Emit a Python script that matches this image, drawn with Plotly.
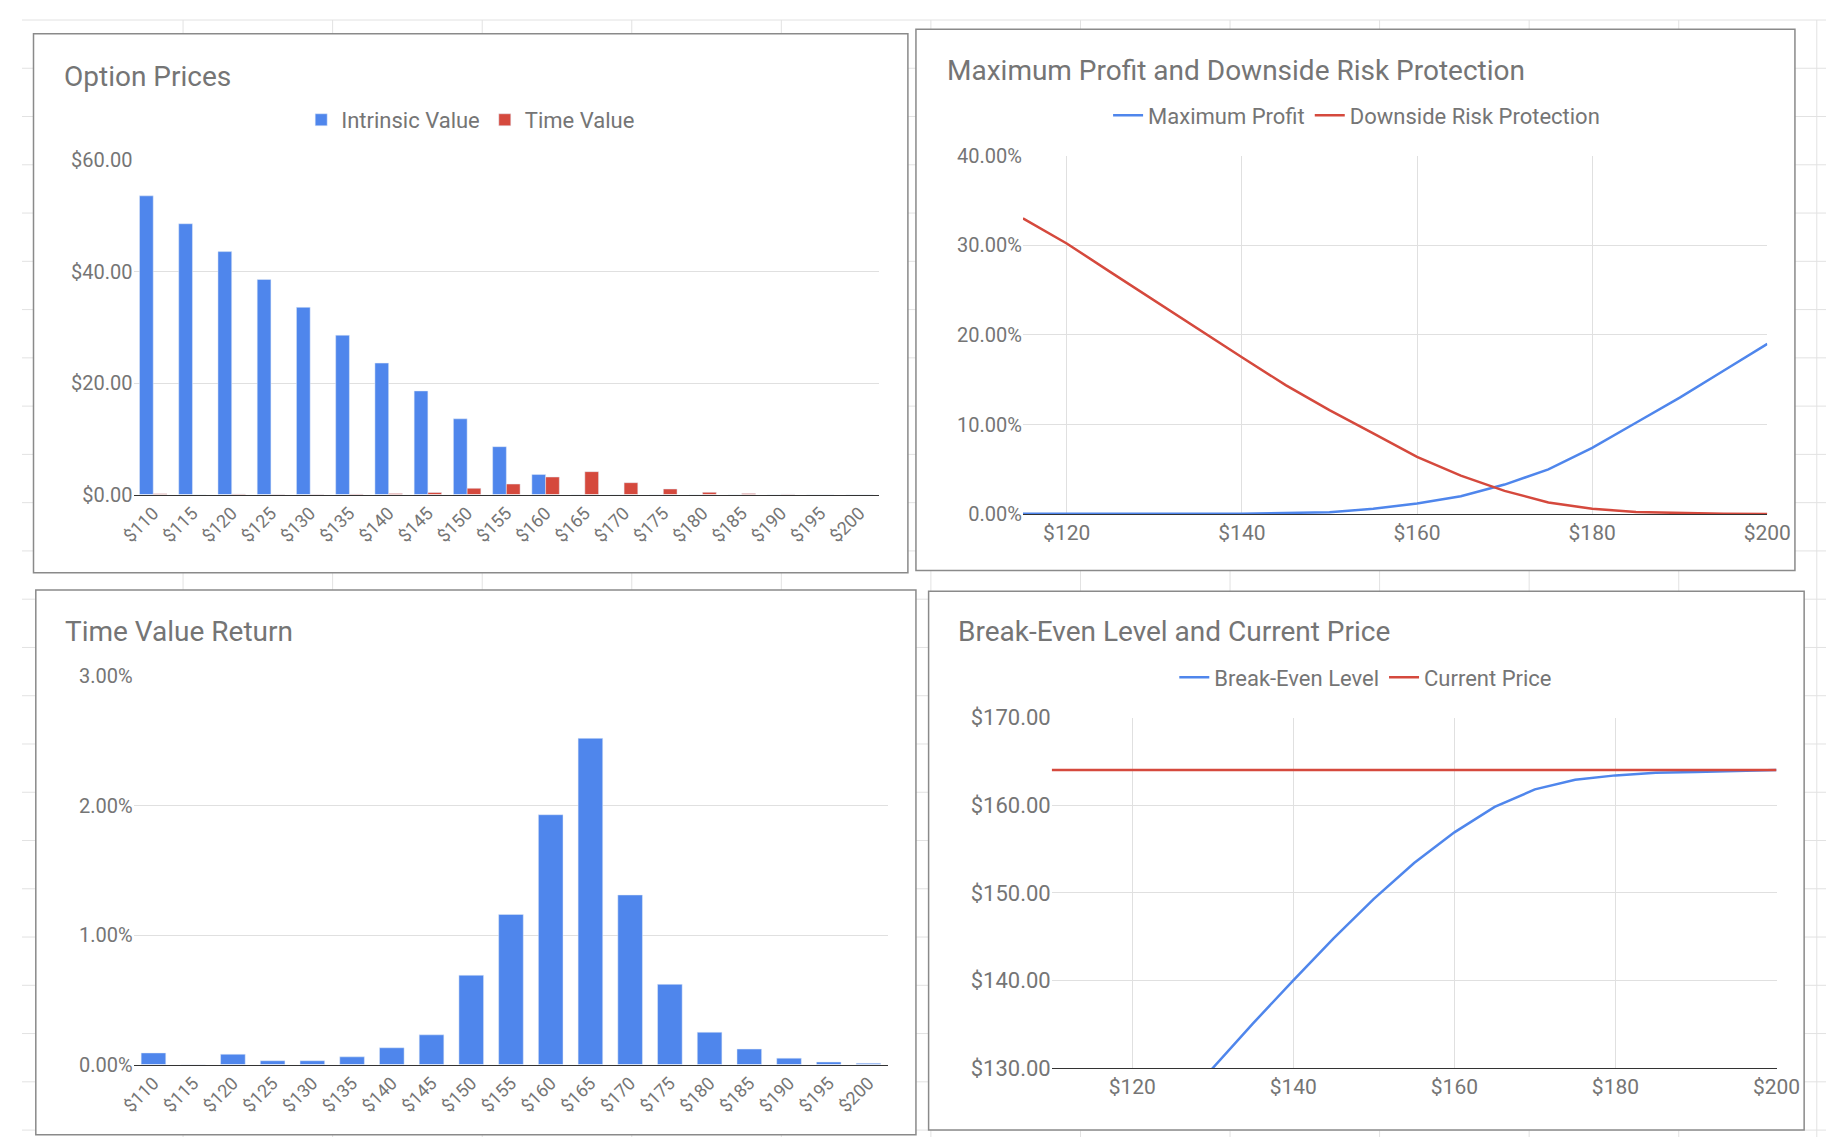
import plotly.graph_objects as go

strikes = [110, 115, 120, 125, 130, 135, 140, 145, 150, 155, 160, 165, 170, 175, 180, 185, 190, 195, 200]
strike_labels = ['$' + str(s) for s in strikes]

intrinsic_value = [53.6, 48.6, 43.6, 38.6, 33.6, 28.6, 23.6, 18.6, 13.6, 8.6, 3.6, 0, 0, 0, 0, 0, 0, 0, 0]
time_value = [0.15, 0.0, 0.13, 0.05, 0.05, 0.1, 0.21, 0.38, 1.13, 1.9, 3.16, 4.12, 2.14, 1.01, 0.41, 0.2, 0.08, 0.03, 0.02]
time_value_return = [0.0009, 0.0, 0.0008, 0.0003, 0.0003, 0.0006, 0.0013, 0.0023, 0.0069, 0.0116, 0.0193, 0.0252,
                     0.0131, 0.0062, 0.0025, 0.0012, 0.0005, 0.0002, 0.0001]

line_strikes = [115, 120, 125, 130, 135, 140, 145, 150, 155, 160, 165, 170, 175, 180, 185, 190, 195, 200]
max_profit = [0.0005, 0.0003, 0.0008, 0.0005, 0.0005, 0.0005, 0.001, 0.002, 0.006, 0.012, 0.02, 0.033, 0.05,
              0.074, 0.102, 0.13, 0.16, 0.19]
downside_protection = [0.33, 0.302, 0.27, 0.238, 0.206, 0.175, 0.144, 0.116, 0.09, 0.064, 0.043, 0.026, 0.013,
                       0.006, 0.0025, 0.001, 0.0003, 0.0001]

be_strikes = [110, 115, 120, 125, 130, 135, 140, 145, 150, 155, 160, 165, 170, 175, 180, 185, 190, 195, 200]
break_even = [110.1, 115.0, 120.1, 125.0, 130.0, 135.1, 140.0, 144.8, 149.3, 153.4, 156.9, 159.8, 161.8, 162.9,
              163.4, 163.7, 163.8, 163.9, 164.0]
current_price = [164.0] * len(be_strikes)

BLUE = '#4f86ec'
RED = '#d5493d'
GREY = '#757575'
GRID = '#e0e0e0'
FONT = 'Roboto'

W, H = 1568.0, 972.0  # reference pixel frame


def fx(px):
    return px / W


def fy(py):
    return 1 - py / H


fig = go.Figure()

# Option prices
fig.add_trace(go.Bar(x=strike_labels, y=intrinsic_value, name='Intrinsic Value', marker_color=BLUE,
                     xaxis='x', yaxis='y', legend='legend'))
fig.add_trace(go.Bar(x=strike_labels, y=time_value, name='Time Value', marker_color=RED,
                     xaxis='x', yaxis='y', legend='legend'))

# Max profit / downside
fig.add_trace(go.Scatter(x=line_strikes, y=max_profit, name='Maximum Profit', mode='lines',
                         line=dict(color=BLUE, width=2.5), xaxis='x2', yaxis='y2', legend='legend2'))
fig.add_trace(go.Scatter(x=line_strikes, y=downside_protection, name='Downside Risk Protection', mode='lines',
                         line=dict(color=RED, width=2.5), xaxis='x2', yaxis='y2', legend='legend2'))

# Time value return
fig.add_trace(go.Bar(x=strike_labels, y=time_value_return, name='Time Value Return', marker_color=BLUE,
                     xaxis='x3', yaxis='y3', showlegend=False, width=0.62))

# Break-even
fig.add_trace(go.Scatter(x=be_strikes, y=break_even, name='Break-Even Level', mode='lines',
                         line=dict(color=BLUE, width=2.5), xaxis='x4', yaxis='y4', legend='legend3'))
fig.add_trace(go.Scatter(x=be_strikes, y=current_price, name='Current Price', mode='lines',
                         line=dict(color=RED, width=2.5), xaxis='x4', yaxis='y4', legend='legend3'))

tick = dict(family=FONT, size=20, color=GREY)
cat_x = dict(type='category', tickangle=-45, tickfont=dict(family=FONT, size=18, color=GREY),
             showgrid=False, showline=True, linecolor='#333333', linewidth=1, ticks='')
num_x = dict(showgrid=True, gridcolor=GRID, tickfont=dict(family=FONT, size=21, color=GREY), tickprefix='$',
             dtick=20, tick0=120, showline=True, linecolor='#333333', zeroline=False, ticks='')
leg_font = dict(family=FONT, size=22, color=GREY)

fig.update_layout(
    width=1842, height=1142,
    margin=dict(l=0, r=0, t=0, b=0),
    paper_bgcolor='white', plot_bgcolor='white',
    font=dict(family=FONT, color=GREY),
    barmode='group', bargap=0.3,
    xaxis=dict(cat_x, domain=[fx(97), fx(745)], anchor='y'),
    yaxis=dict(domain=[fy(413), fy(122)], range=[0, 60], dtick=20, tickprefix='$', tickformat='.2f',
               gridcolor=GRID, tickfont=tick, zeroline=False, anchor='x'),
    xaxis2=dict(num_x, domain=[fx(870), fx(1517)], range=[115, 200], anchor='y2'),
    yaxis2=dict(domain=[fy(430), fy(118)], range=[0, 0.4], dtick=0.1, tickformat='.2%',
                gridcolor=GRID, tickfont=tick, zeroline=False, anchor='x2'),
    xaxis3=dict(cat_x, domain=[fx(97), fx(753)], anchor='y3'),
    yaxis3=dict(domain=[fy(909), fy(571)], range=[0, 0.03], dtick=0.01, tickformat='.2%',
                gridcolor=GRID, tickfont=tick, zeroline=False, anchor='x3'),
    xaxis4=dict(num_x, domain=[fx(895), fx(1525)], range=[110, 200], anchor='y4'),
    yaxis4=dict(domain=[fy(912), fy(607)], range=[130, 170], dtick=10, tickprefix='$', tickformat='.2f',
                gridcolor=GRID, tickfont=dict(family=FONT, size=22, color=GREY), zeroline=False, anchor='x4'),
    legend=dict(orientation='h', x=fx(390), xanchor='center', y=fy(87), yanchor='middle', font=leg_font),
    legend2=dict(orientation='h', x=fx(1160), xanchor='center', y=fy(83), yanchor='middle', font=leg_font),
    legend3=dict(orientation='h', x=fx(1168), xanchor='center', y=fy(572), yanchor='middle', font=leg_font),
)

titles = [('Option Prices', 35, 49), ('Maximum Profit and Downside Risk Protection', 802, 44),
          ('Time Value Return', 36, 532), ('Break-Even Level and Current Price', 812, 532)]
for text, tx, ty in titles:
    fig.add_annotation(text=text, x=fx(tx), y=fy(ty), xref='paper', yref='paper', xanchor='left',
                       yanchor='middle', showarrow=False, font=dict(family=FONT, size=28, color=GREY))

# spreadsheet grid behind the charts
for gx in [140, 270, 400, 530, 660, 790, 920, 1050, 1180, 1310, 1440, 1560]:
    fig.add_shape(type='line', x0=fx(gx), x1=fx(gx), y0=0, y1=1, xref='paper', yref='paper',
                  line=dict(color='#e2e2e2', width=1), layer='below')
for gy in range(0, 972, 42):
    fig.add_shape(type='line', x0=0, x1=1, y0=fy(gy), y1=fy(gy), xref='paper', yref='paper',
                  line=dict(color='#e2e2e2', width=1), layer='below')

panels = [(10, 12, 770, 481), (777, 8, 1541, 479), (12, 496, 777, 970), (788, 497, 1549, 966)]
for x0, y0, x1, y1 in panels:
    fig.add_shape(type='rect', x0=fx(x0), x1=fx(x1), y0=fy(y1), y1=fy(y0), xref='paper', yref='paper',
                  line=dict(color='#8a8a8a', width=1.5), fillcolor='white', layer='below')

fig.write_html('out.html')
